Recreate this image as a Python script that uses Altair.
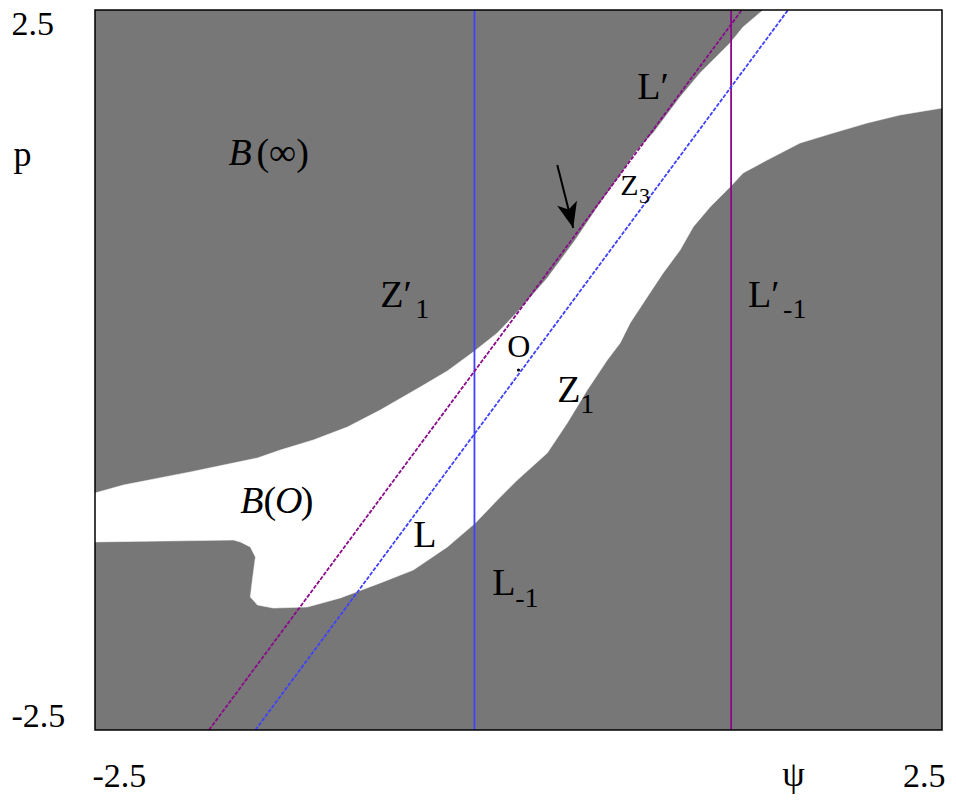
import altair as alt
import pandas as pd

SERIF = "Liberation Serif"
GRAY = "#777777"
BLUE = "#4040ff"
PURPLE = "#8b0a8b"

# Boundary of the basin B(O) (white region), upper edge left->right then lower edge right->left
basin_psi = [-2.5, -2.332, -1.937, -1.541, -1.406, -1.211, -1.010, -0.816, -0.580, -0.420,
             -0.267, -0.125, 0.010, 0.170, 0.335, 0.482, 0.600, 0.701, 0.795, 0.954,
             1.072, 1.249, 1.326, 1.444, 2.5, 2.5,
             2.252, 2.058, 1.857, 1.662, 1.468, 1.326, 1.249, 1.131, 1.031, 0.954,
             0.854, 0.760, 0.659, 0.600, 0.524, 0.406, 0.288, 0.170, -0.007, -0.125,
             -0.255, -0.420, -0.621, -0.816, -1.052, -1.246, -1.447, -1.541, -1.583, -1.571,
             -1.553, -1.583, -1.642, -1.683, -2.5]
basin_p = [-0.854, -0.799, -0.708, -0.611, -0.556, -0.486, -0.396, -0.278, -0.118, -0.007,
           0.125, 0.257, 0.424, 0.639, 0.903, 1.160, 1.354, 1.528, 1.646, 1.896,
           2.063, 2.271, 2.382, 2.5, 2.5, 1.819,
           1.771, 1.715, 1.646, 1.576, 1.458, 1.368, 1.271, 1.132, 0.993, 0.833,
           0.674, 0.507, 0.326, 0.187, 0.069, -0.139, -0.368, -0.576, -0.764, -0.903,
           -1.063, -1.229, -1.389, -1.479, -1.583, -1.646, -1.653, -1.632, -1.576, -1.458,
           -1.299, -1.229, -1.194, -1.181, -1.194]

# Straight lines L, L', L_-1, L'_-1 (endpoints)
L_psi, L_p = [-1.553, 1.591], [-2.5, 2.5]
Lp_psi, Lp_p = [-1.827, 1.318], [-2.5, 2.5]
Lm1_psi, Lm1_p = [-0.26, -0.26], [-2.5, 2.5]
Lpm1_psi, Lpm1_p = [1.255, 1.255], [-2.5, 2.5]

# Arrow pointing at the boundary near Z3
arrow_psi, arrow_p = [0.229, 0.323], [1.424, 0.986]

# Region / line labels: text, psi, p, font size
label_text = ["(\u221e)", "Z\u2032", "1", "L\u2032", "Z", "3", "O", "Z", "1",
              "(", ")", "L", "L", "-1", "L\u2032", "-1"]
label_psi = [-1.547, -0.816, -0.609, 0.701, 0.600, 0.712, -0.066, 0.229, 0.364,
             -1.506, -1.285, -0.621, -0.155, -0.019, 1.355, 1.562]
label_p = [1.424, 0.4375, 0.361, 1.882, 1.215, 1.160, 0.090, -0.222, -0.299,
           -0.993, -0.993, -1.229, -1.5625, -1.646, 0.4375, 0.361]
label_size = [38, 38, 28, 38, 30, 22, 32, 38, 28, 38, 38, 38, 38, 28, 38, 28]

# Italic letters of B(inf) and B(O)
ital_text = ["B", "B", "O"]
ital_psi = [-1.712, -1.642, -1.438]
ital_p = [1.424, -0.993, -0.993]

xs = alt.Scale(domain=[-2.5, 2.5], nice=False, zero=False)
ys = alt.Scale(domain=[-2.5, 2.5], nice=False, zero=False)

basin = pd.DataFrame({"i": range(len(basin_psi)), "psi": basin_psi, "p": basin_p})

x_axis = alt.Axis(values=[-2.5, 2.5], labelExpr="'' + datum.value", domain=False, ticks=False,
                  tickSize=0, grid=False, labelFlush=True, labelFlushOffset=3, labelPadding=29,
                  labelFont=SERIF, labelFontSize=34, labelColor="black",
                  title="\u03c8", titleFont=SERIF, titleFontSize=36, titleFontWeight="normal",
                  titleColor="black", titleX=698, titleY=55, titleAlign="center",
                  titleBaseline="alphabetic")
y_axis = alt.Axis(values=[-2.5, 2.5], labelExpr="'' + datum.value", domain=False, ticks=False,
                  tickSize=0, grid=False, labelFlush=True, labelFlushOffset=3, labelPadding=84,
                  labelAlign="left", labelFont=SERIF, labelFontSize=34, labelColor="black",
                  title="p", titleFont=SERIF, titleFontSize=36, titleFontWeight="normal",
                  titleColor="black", titleAngle=0, titleX=-73, titleY=155, titleAlign="center",
                  titleBaseline="alphabetic")

region = alt.Chart(basin).mark_line(fill="white", stroke="white", strokeWidth=0.5, clip=True).encode(
    x=alt.X("psi:Q", scale=xs, axis=x_axis),
    y=alt.Y("p:Q", scale=ys, axis=y_axis),
    order="i:Q",
)


def seg(psi, p, color, dash=None):
    df = pd.DataFrame({"psi": psi, "p": p})
    kw = dict(color=color, strokeWidth=1.8, clip=True)
    if dash:
        kw["strokeDash"] = dash
    return alt.Chart(df).mark_line(**kw).encode(
        x=alt.X("psi:Q", scale=xs), y=alt.Y("p:Q", scale=ys))


lines = [
    seg(Lm1_psi, Lm1_p, BLUE),
    seg(Lpm1_psi, Lpm1_p, PURPLE),
    seg(L_psi, L_p, BLUE, [4, 1.5]),
    seg(Lp_psi, Lp_p, PURPLE, [4, 1.5]),
]

arrow_df = pd.DataFrame({"psi": arrow_psi, "p": arrow_p})
arrow_line = alt.Chart(arrow_df).mark_line(color="black", strokeWidth=2).encode(
    x=alt.X("psi:Q", scale=xs), y=alt.Y("p:Q", scale=ys))
arrow_head = alt.Chart(arrow_df.iloc[[1]]).mark_point(
    shape="M0,0 L-0.4,-1 L0,-0.75 L0.4,-1 Z", size=2600, filled=True, color="black",
    opacity=1, angle=346).encode(x=alt.X("psi:Q", scale=xs), y=alt.Y("p:Q", scale=ys))

origin = alt.Chart(pd.DataFrame({"psi": [0.0], "p": [0.0]})).mark_point(
    filled=True, color="black", size=10, opacity=1).encode(
    x=alt.X("psi:Q", scale=xs), y=alt.Y("p:Q", scale=ys))

labels = pd.DataFrame({"t": label_text, "psi": label_psi, "p": label_p, "s": label_size})
label_layer = alt.Chart(labels).mark_text(
    font=SERIF, align="left", baseline="alphabetic", color="black").encode(
    x=alt.X("psi:Q", scale=xs), y=alt.Y("p:Q", scale=ys), text="t:N",
    size=alt.Size("s:Q", scale=None, legend=None))

ital = pd.DataFrame({"t": ital_text, "psi": ital_psi, "p": ital_p})
ital_layer = alt.Chart(ital).mark_text(
    font=SERIF, fontStyle="italic", fontSize=38, align="left", baseline="alphabetic",
    color="black").encode(x=alt.X("psi:Q", scale=xs), y=alt.Y("p:Q", scale=ys), text="t:N")

frame = alt.Chart(pd.DataFrame({"a": [0]})).mark_rect(
    filled=False, stroke="black", strokeWidth=1.5).encode(
    x=alt.datum(-2.5, scale=xs), x2=alt.datum(2.5), y=alt.datum(-2.5, scale=ys), y2=alt.datum(2.5))

chart = alt.layer(region, *lines, arrow_line, arrow_head, origin, label_layer, ital_layer, frame).properties(
    width=847, height=720,
    autosize=alt.AutoSizeParams(type="none"),
    padding={"left": 95, "top": 10, "right": 14, "bottom": 71},
    background="white",
).configure_view(fill=GRAY, stroke=None)

chart.save("out.html", embed_options={"renderer": "svg", "actions": False})
